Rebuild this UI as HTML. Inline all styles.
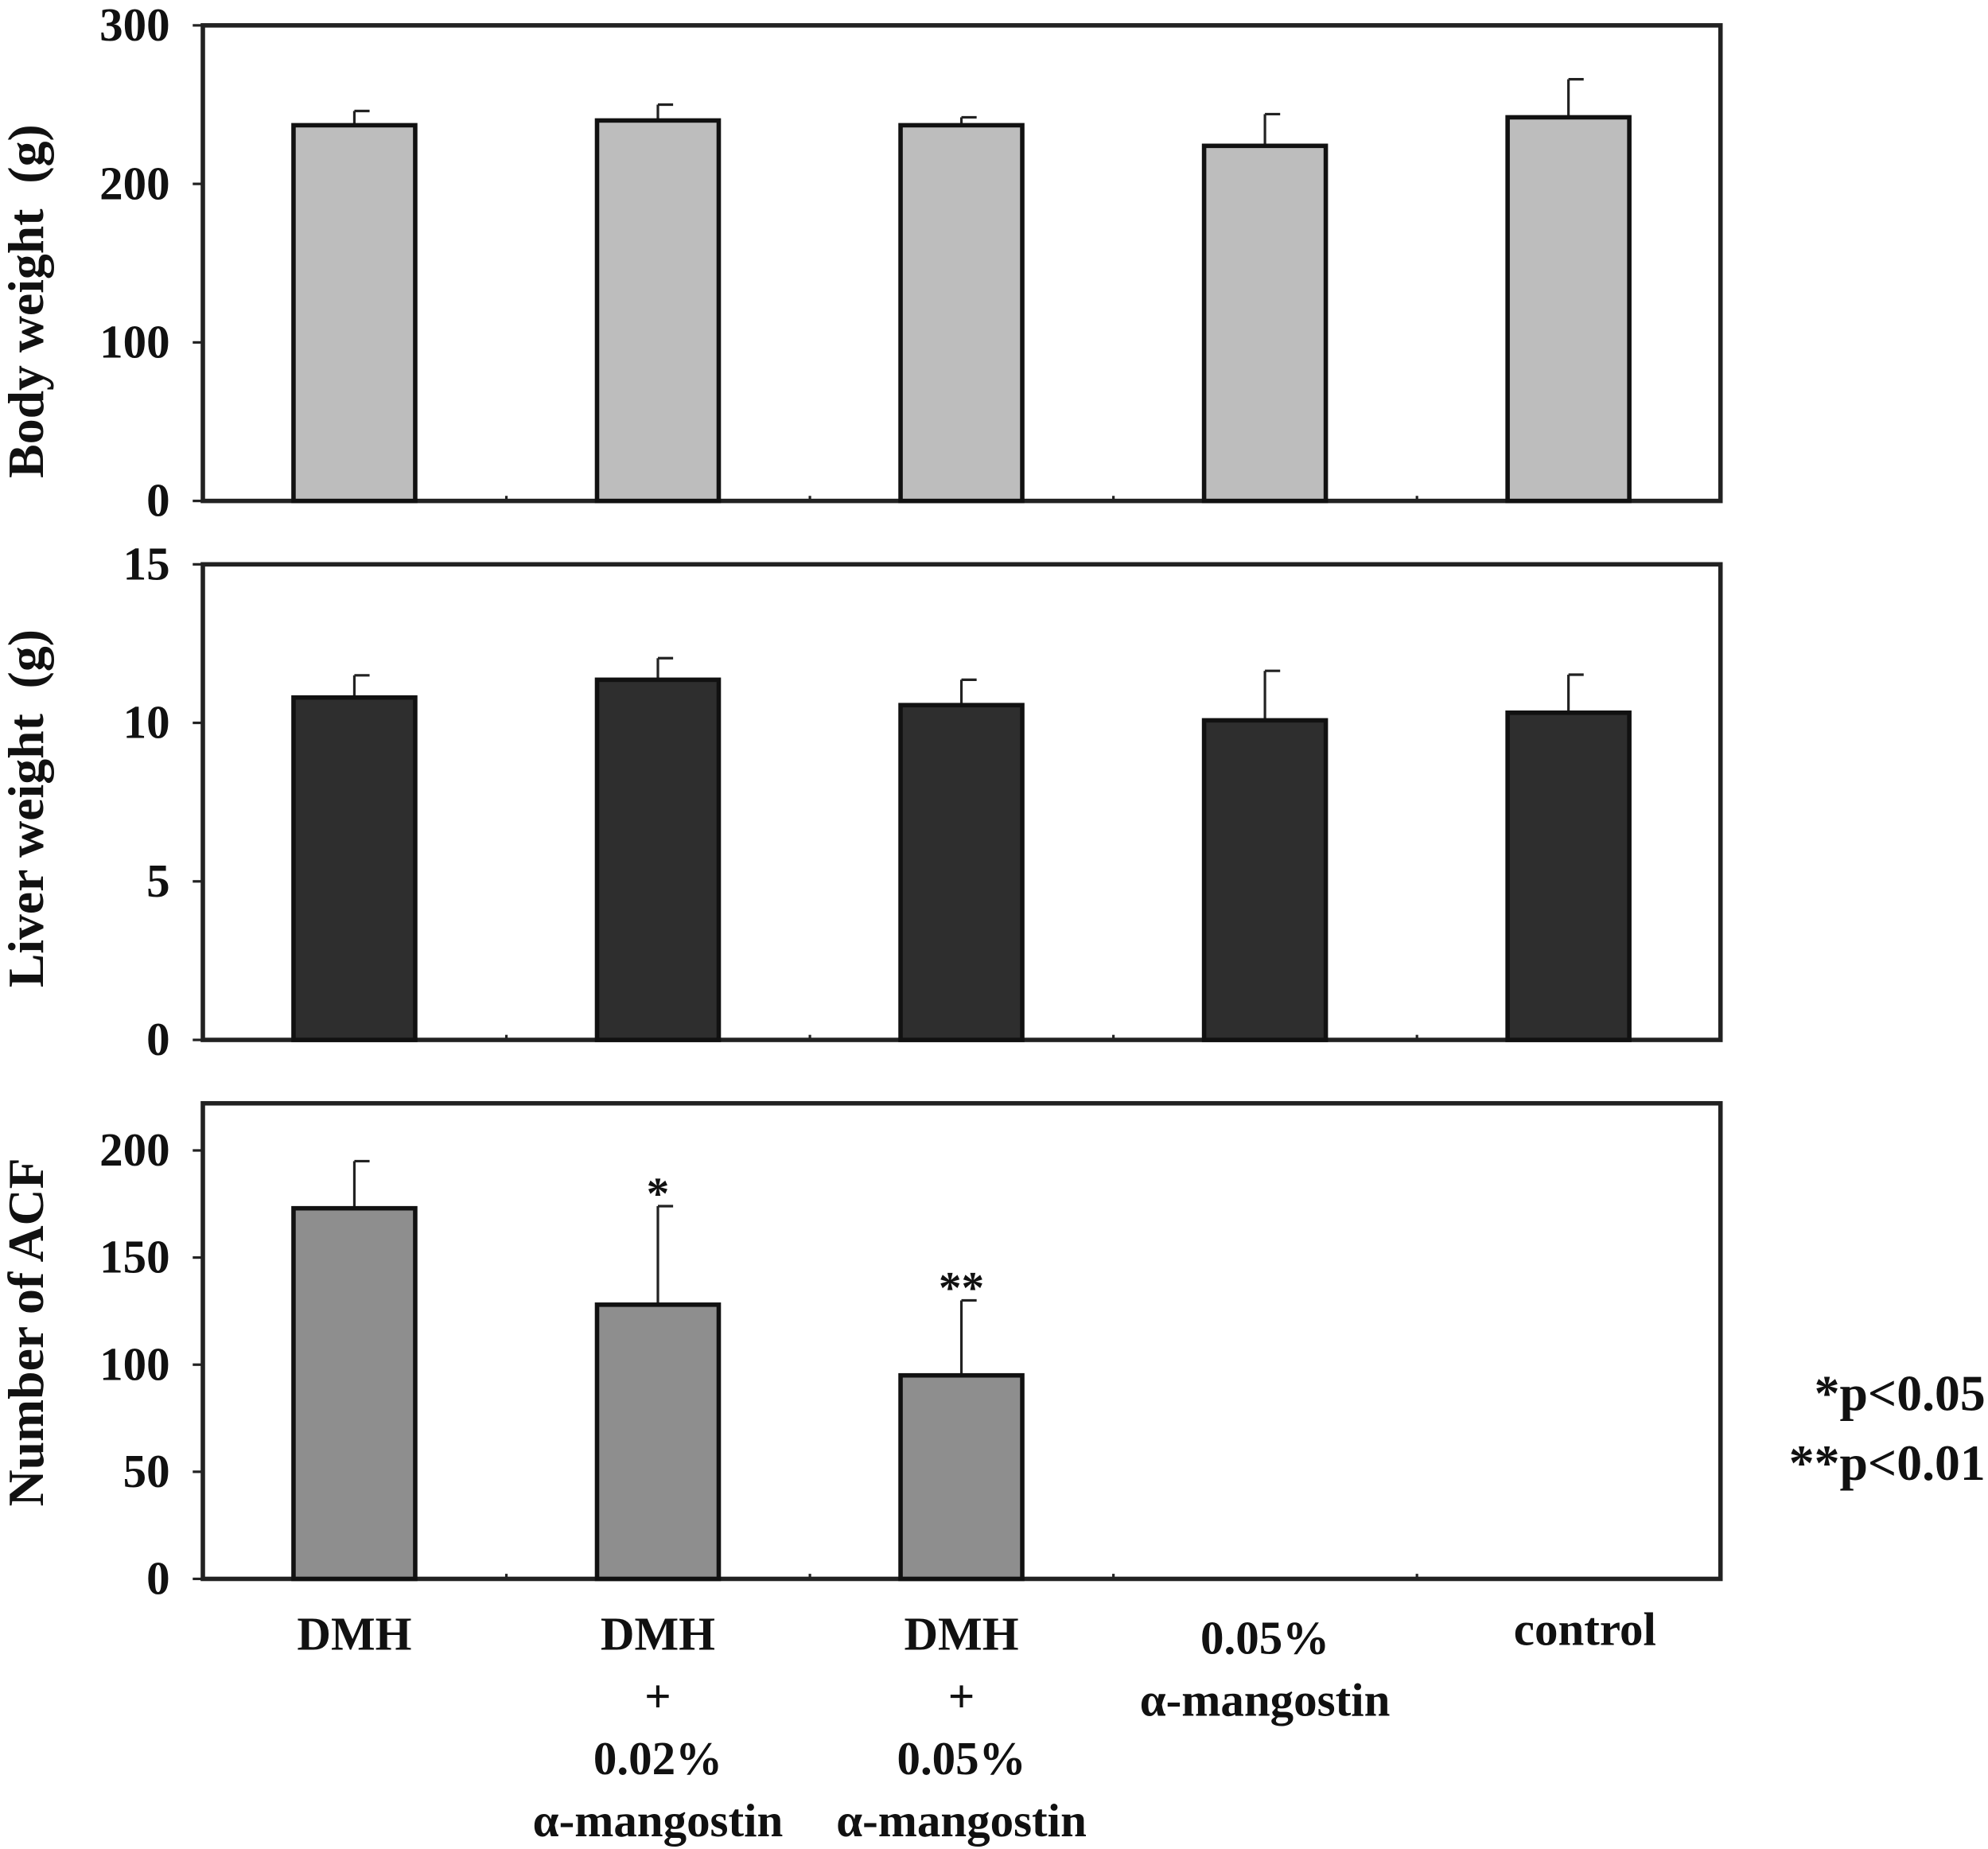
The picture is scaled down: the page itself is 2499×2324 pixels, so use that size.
<!DOCTYPE html>
<html><head><meta charset="utf-8"><style>
html,body{margin:0;padding:0;background:#fff;}
svg{display:block;}
text{font-family:"Liberation Serif",serif;font-weight:bold;fill:#111;}
</style></head><body>
<svg id="chart" width="2499" height="2324" viewBox="0 0 1568 1458" preserveAspectRatio="none" xmlns="http://www.w3.org/2000/svg"></svg>
<script>
const categories = ["DMH","DMH+0.02%","DMH+0.05%","0.05%","control"];
const bodyWeight = [237, 240, 237, 224, 242];
const bodyErr = [9, 10, 5, 20, 24];
const liverWeight = [10.8, 11.36, 10.56, 10.08, 10.32];
const liverErr = [0.7, 0.68, 0.8, 1.56, 1.2];
const acfCount = [173, 128, 95, null, null];
const acfErr = [22, 46, 35, null, null];
const acfStars = ["", "*", "**", "", ""];
const bodyTicks = [0,100,200,300];
const liverTicks = [0,5,10,15];
const acfTicks = [0,50,100,150,200];

const NS="http://www.w3.org/2000/svg";
const svg=document.getElementById('chart');
function el(tag,attrs,parent){const e=document.createElementNS(NS,tag);for(const k in attrs)e.setAttribute(k,attrs[k]);(parent||svg).appendChild(e);return e;}
const L=160,R=1357,step=239.4,bw=96;
function xc(i){return L+119.5+i*step;}

function panel(name,top,bottom,ymax,ticks,vals,errs,fill,title,stars,titleOff){
  const g=el('g',{});
  
  
  const y=v=>bottom-(v/ymax)*(bottom-top);
  const frame=el('rect',{x:L,y:top,width:R-L,height:bottom-top,fill:'none',stroke:'#222','stroke-width':3.5},g);
  
  
  ticks.forEach(t=>{
    el('line',{x1:L-8,x2:L,y1:y(t),y2:y(t),stroke:'#222','stroke-width':2},g);
    const tx=el('text',{x:134,y:y(t)+12,'text-anchor':'end','font-size':37},g);
    tx.textContent=t;
    
    
  });
  for(let i=1;i<categories.length;i++){
    el('line',{x1:L+i*step,x2:L+i*step,y1:bottom,y2:bottom-4,stroke:'#222','stroke-width':2},g);
  }
  const tt=el('text',{x:0,y:0,'text-anchor':'middle','font-size':40,transform:`translate(34,${(top+bottom)/2+titleOff}) rotate(-90)`},g);
  tt.textContent=title;
  
  
  vals.forEach((v,i)=>{
    if(v==null)return;
    const cx=xc(i);
    const et=y(v+errs[i]);
    const eb=el('line',{x1:cx,x2:cx,y1:y(v),y2:et,stroke:'#222','stroke-width':2},g);
    
    
    el('line',{x1:cx,x2:cx+12,y1:et,y2:et,stroke:'#222','stroke-width':2},g);
    const b=el('rect',{x:cx-bw/2,y:y(v),width:bw,height:bottom-y(v),fill:fill,stroke:'#111','stroke-width':3.5},g);
    
    
    if(stars&&stars[i]){
      const s=el('text',{x:cx,y:et+2,'text-anchor':'middle','font-size':36,fill:'#555'},g);
      s.textContent=stars[i];
      
      
    }
  });
}
panel('body-weight',20,395,300,bodyTicks,bodyWeight,bodyErr,'#bdbdbd','Body weight\u2002(g)',null,30);
panel('liver-weight',445,820,15,liverTicks,liverWeight,liverErr,'#2e2e2e','Liver weight\u2002(g)',null,5);
panel('acf',870,1245,222,acfTicks,acfCount,acfErr,'#8e8e8e','Number of ACF',acfStars,-7);

const labels=[["DMH"],["DMH","+","0.02%","α-mangostin"],["DMH","+","0.05%","α-mangostin"],["0.05%","α-mangostin"],["control"]];
labels.forEach((ls,i)=>{
  ls.forEach((s,j)=>{
    const t=el('text',{x:xc(i)+(i==4?13:0),y:1301+j*49+(i==3?3:0)-(i==4?4:0),'text-anchor':'middle','font-size':37});
    t.textContent=s;
    
    
  });
});
[["*p<0.05",1112],["**p<0.01",1167]].forEach(a=>{
  const t=el('text',{x:1566,y:a[1],'text-anchor':'end','font-size':40});
  t.textContent=a[0];
  
  
});
</script>
</body></html>
